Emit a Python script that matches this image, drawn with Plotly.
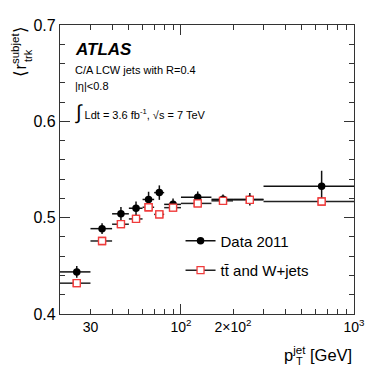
import plotly.graph_objects as go

# ---- data ----
bin_lo = [20, 30, 40, 50, 60, 70, 80, 100, 150, 200, 300]
bin_hi = [30, 40, 50, 60, 70, 80, 100, 150, 200, 300, 1000]
pt_center = [25, 35, 45, 55, 65, 75, 90, 125, 175, 250, 650]
data_vals = [0.4437, 0.4886, 0.5040, 0.5098, 0.5189, 0.5260, 0.5138, 0.5212, 0.5190, 0.5190, 0.5327]
data_err = [0.006, 0.0055, 0.007, 0.007, 0.008, 0.0075, 0.006, 0.006, 0.005, 0.0065, 0.016]
mc_vals = [0.4320, 0.4758, 0.4932, 0.4987, 0.5108, 0.5034, 0.5104, 0.5148, 0.5175, 0.5185, 0.5168]

xtick_vals = [30, 100, 200, 1000]
xtick_text = ["30", "10<sup>2</sup>", "2×10<sup>2</sup>", "10<sup>3</sup>"]
xminor_vals = [40, 50, 60, 70, 80, 90, 300, 400, 500, 600, 700, 800, 900]
xmajor_long = [100, 1000]

FONT = "Liberation Sans, Arial, Helvetica, sans-serif"
RED = "#f03c3c"

err_plus = [h - c for h, c in zip(bin_hi, pt_center)]
err_minus = [c - l for l, c in zip(bin_lo, pt_center)]

fig = go.Figure()

fig.add_trace(go.Scatter(
    x=pt_center, y=mc_vals, mode="markers", showlegend=False,
    marker=dict(symbol="square-open", size=7, color=RED, line=dict(width=1.3, color=RED)),
    error_x=dict(type="data", symmetric=False, array=err_plus, arrayminus=err_minus,
                 width=0, thickness=1.5, color="#222222"),
))
fig.add_trace(go.Scatter(
    x=pt_center, y=data_vals, mode="markers", showlegend=False,
    marker=dict(symbol="circle", size=7.5, color="black"),
    error_x=dict(type="data", symmetric=False, array=err_plus, arrayminus=err_minus,
                 width=0, thickness=1.5, color="#111111"),
    error_y=dict(type="data", array=data_err, width=0, thickness=1.5, color="#111111"),
))
# redraw MC squares on top of data horizontal bars
fig.add_trace(go.Scatter(
    x=pt_center, y=mc_vals, mode="markers", showlegend=False,
    marker=dict(symbol="square", size=7, color="white", line=dict(width=1.3, color=RED)),
))

# legend entries
fig.add_trace(go.Scatter(
    x=[None], y=[None], mode="lines+markers", name="Data 2011", legendgroup="a",
    line=dict(color="#111111", width=1.5),
    marker=dict(symbol="circle", size=7.5, color="black"),
))
fig.add_trace(go.Scatter(
    x=[None], y=[None], mode="lines+markers", name="tt\u0304 and W+jets", legendgroup="b",
    line=dict(color="#222222", width=1.5),
    marker=dict(symbol="square", size=7, color="white", line=dict(width=1.3, color=RED)),
))

# overlay axis for long major ticks
fig.add_trace(go.Scatter(x=[100], y=[0.45], xaxis="x2", mode="markers",
                         marker=dict(opacity=0), showlegend=False, hoverinfo="skip"))

# the page body has an 8px margin, so the figure is 366 px and offset by it
fig.update_layout(
    width=366, height=366,
    margin=dict(l=52, r=19, t=9, b=60),
    paper_bgcolor="white", plot_bgcolor="white",
    font=dict(family=FONT, color="black"),
    showlegend=True,
    legend=dict(x=0.41, y=0.31, xanchor="left", yanchor="top",
                bgcolor="rgba(0,0,0,0)", font=dict(size=15, family=FONT),
                tracegroupgap=7, itemwidth=30),
    xaxis=dict(
        type="log", range=[1.30103, 3],
        tickvals=xtick_vals, ticktext=xtick_text,
        ticks="inside", ticklen=5, tickwidth=1, tickcolor="#333",
        tickfont=dict(size=14, family=FONT),
        minor=dict(tickvals=xminor_vals, ticks="inside", ticklen=5, tickcolor="#333"),
        showline=True, linecolor="#333", linewidth=1.2, mirror="ticks",
        showgrid=False, zeroline=False,
    ),
    xaxis2=dict(
        type="log", range=[1.30103, 3], overlaying="x", side="bottom",
        tickvals=xmajor_long, showticklabels=False,
        ticks="inside", ticklen=10, tickwidth=1, tickcolor="#333",
        mirror="ticks", showline=False, showgrid=False, zeroline=False,
    ),
    yaxis=dict(
        range=[0.4, 0.7], tickvals=[0.4, 0.5, 0.6, 0.7],
        ticktext=["0.4", "0.5", "0.6", "0.7"],
        ticks="inside", ticklen=10, tickwidth=1, tickcolor="#333",
        tickfont=dict(size=16, family=FONT),
        minor=dict(dtick=0.02, ticks="inside", ticklen=5, tickcolor="#333"),
        showline=True, linecolor="#333", linewidth=1.2, mirror="ticks",
        showgrid=False, zeroline=False,
    ),
    annotations=[
        dict(text="<b><i>ATLAS</i></b>", x=0.044, y=0.916, xref="paper", yref="paper",
             xanchor="left", yanchor="middle", showarrow=False, font=dict(size=17)),
        dict(text="C/A LCW jets with R=0.4", x=0.044, y=0.845, xref="paper", yref="paper",
             xanchor="left", yanchor="middle", showarrow=False, font=dict(size=11)),
        dict(text="|η|<0.8", x=0.044, y=0.788, xref="paper", yref="paper",
             xanchor="left", yanchor="middle", showarrow=False, font=dict(size=11)),
        dict(text="<span style='font-size:20px'>∫</span> Ldt = 3.6 fb<sup>-1</sup>, √s = 7 TeV",
             x=0.044, y=0.697, xref="paper", yref="paper",
             xanchor="left", yanchor="middle", showarrow=False, font=dict(size=11)),
        # x title: p with stacked "jet" / "T"
        dict(text="p<sup>jet</sup> [GeV]", x=1.0, y=-0.138, xref="paper", yref="paper",
             xanchor="right", yanchor="middle", showarrow=False, font=dict(size=16.5)),
        dict(text="T", x=0.797, y=-0.163, xref="paper", yref="paper",
             xanchor="left", yanchor="middle", showarrow=False, font=dict(size=11)),
        # y title: <r> with stacked "subjet" / "trk"
        dict(text="⟨r<sup>subjet</sup>⟩", x=-0.139, y=0.815, xref="paper", yref="paper",
             xanchor="center", yanchor="bottom", textangle=-90, showarrow=False,
             font=dict(size=16.5)),
        dict(text="trk", x=-0.109, y=0.896, xref="paper", yref="paper",
             xanchor="center", yanchor="middle", textangle=-90, showarrow=False,
             font=dict(size=11)),
    ],
)

fig.write_html("out.html")
